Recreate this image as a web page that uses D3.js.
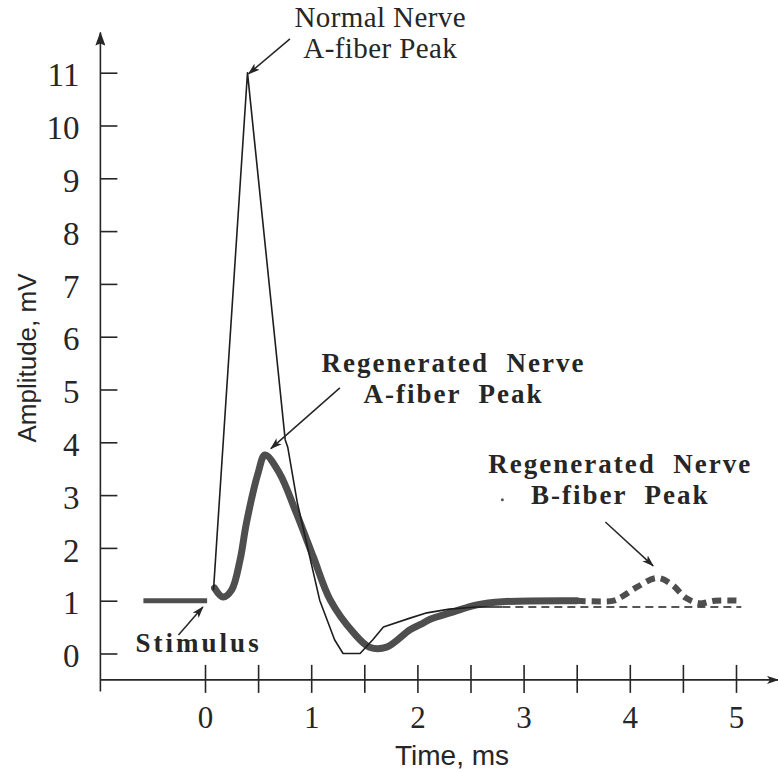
<!DOCTYPE html>
<html>
<head>
<meta charset="utf-8">
<script src="https://cdn.jsdelivr.net/npm/d3@7"></script>
<style>
  html, body { margin: 0; padding: 0; background: #fff; }
  svg { display: block; }
  .serif { font-family: "Liberation Serif", "DejaVu Serif", serif; fill: #262626; }
  .sans { font-family: "Liberation Sans", Arial, sans-serif; fill: #262626; }
</style>
</head>
<body>
<div class="chart"></div>
<script>
// Compound action potential, normal vs regenerated nerve
// values (time in ms, amplitude in mV)

// stimulus artifact
var stimTime = [-0.58, 0.02];
var stimAmp = [1.0, 1.0];

// normal nerve, thin solid trace
var normalTime = [0.08, 0.40, 0.755, 0.78, 0.87, 1.08, 1.22, 1.30, 1.46, 1.58, 1.68, 1.93, 2.09, 2.30, 2.55, 2.80];
var normalAmp  = [1.20, 11.0, 4.05, 3.90, 2.85, 1.01, 0.26, 0.00, 0.00, 0.26, 0.50, 0.67, 0.77, 0.84, 0.88, 0.88];

// normal nerve, thin dashed tail
var normalTailTime = [2.80, 5.05];
var normalTailAmp = [0.88, 0.88];

// regenerated nerve, thick solid trace
var regenTime = [0.09, 0.17, 0.25, 0.33, 0.39, 0.50, 0.565, 0.70, 0.86, 1.02, 1.18, 1.40, 1.55, 1.71, 1.93, 2.03, 2.12, 2.34, 2.56, 2.80, 3.50];
var regenAmp  = [1.24, 1.07, 1.20, 1.77, 2.47, 3.42, 3.76, 3.42, 2.66, 1.83, 1.01, 0.39, 0.12, 0.12, 0.45, 0.55, 0.65, 0.79, 0.92, 0.98, 1.00];

// regenerated nerve, thick dashed tail with the B-fiber bump
var regenTailTime = [3.50, 3.85, 3.92, 4.07, 4.26, 4.40, 4.53, 4.66, 4.80, 5.05];
var regenTailAmp  = [1.00, 1.00, 1.07, 1.26, 1.43, 1.30, 1.05, 0.95, 1.00, 1.00];

// tick values
var xTickValues = [0, 0.5, 1, 1.5, 2, 2.5, 3, 3.5, 4, 4.5, 5];
var yTickValues = [0, 1, 2, 3, 4, 5, 6, 7, 8, 9, 10, 11];

var svgWidth = 778;
var svgHeight = 773;

var svg = d3.select(".chart")
            .append("svg")
            .attr("width", svgWidth)
            .attr("height", svgHeight);

// scales
var x = d3.scaleLinear().domain([0, 5]).range([205, 736]);
var y = d3.scaleLinear().domain([0, 11]).range([653.5, 72.7]);

// where the axes sit (in data units)
var xAxisAt = -0.5;
var yAxisAt = -0.985;

var ink = "#262626";

// arrow markers
var defs = svg.append("defs");
defs.append("marker")
    .attr("id", "head")
    .attr("viewBox", "0 0 12 8")
    .attr("refX", 11).attr("refY", 4)
    .attr("markerWidth", 12).attr("markerHeight", 8)
    .attr("markerUnits", "userSpaceOnUse")
    .attr("orient", "auto")
  .append("path")
    .attr("d", "M0,0 L12,4 L0,8 L3,4 Z")
    .attr("fill", ink);

defs.append("marker")
    .attr("id", "axisHead")
    .attr("viewBox", "0 0 14 10")
    .attr("refX", 13).attr("refY", 5)
    .attr("markerWidth", 14).attr("markerHeight", 10)
    .attr("markerUnits", "userSpaceOnUse")
    .attr("orient", "auto")
  .append("path")
    .attr("d", "M0,0 L14,5 L0,10 L2,5 Z")
    .attr("fill", ink);

// axis lines
svg.append("line")
   .attr("x1", x(yAxisAt)).attr("x2", x(yAxisAt))
   .attr("y1", y(-0.72)).attr("y2", y(11.76))
   .attr("stroke", ink).attr("stroke-width", 1.6)
   .attr("marker-end", "url(#axisHead)");

svg.append("line")
   .attr("x1", x(yAxisAt)).attr("x2", svgWidth)
   .attr("y1", y(xAxisAt)).attr("y2", y(xAxisAt))
   .attr("stroke", ink).attr("stroke-width", 1.6)
   .attr("marker-end", "url(#head)");

// y axis ticks and labels
var leftAxis = d3.axisLeft(y)
                 .tickValues(yTickValues)
                 .tickSize(12)
                 .tickPadding(9)
                 .tickFormat(d3.format("d"));

var gy = svg.append("g")
            .attr("transform", `translate(${x(yAxisAt)}, 0)`)
            .call(leftAxis);
gy.select(".domain").remove();
gy.selectAll(".tick line").attr("x2", 17).attr("stroke", ink).attr("stroke-width", 1.6);
gy.selectAll(".tick text")
  .attr("class", "serif")
  .attr("dy", "0.4em")
  .style("font-size", "33px");

// x axis ticks and labels
var bottomAxis = d3.axisBottom(x)
                   .tickValues(xTickValues)
                   .tickSize(13)
                   .tickPadding(13)
                   .tickFormat(d => Number.isInteger(d) ? d : "");

var gx = svg.append("g")
            .attr("transform", `translate(0, ${y(xAxisAt)})`)
            .call(bottomAxis);
gx.select(".domain").remove();
gx.selectAll(".tick line").attr("y1", -15).attr("stroke", ink).attr("stroke-width", 1.6);
gx.selectAll(".tick text")
  .attr("class", "serif")
  .style("font-size", "31px");

// axis titles
svg.append("text")
   .attr("class", "sans")
   .attr("transform", `translate(36, 358) rotate(-90)`)
   .attr("text-anchor", "middle")
   .style("font-size", "26px")
   .text("Amplitude, mV");

svg.append("text")
   .attr("class", "sans")
   .attr("x", 452).attr("y", 765)
   .attr("text-anchor", "middle")
   .style("font-size", "28px")
   .text("Time, ms");

// traces
function pts(ts, as) { return ts.map((t, i) => [t, as[i]]); }

var straight = d3.line().x(d => x(d[0])).y(d => y(d[1]));
var smooth = d3.line().x(d => x(d[0])).y(d => y(d[1])).curve(d3.curveCatmullRom.alpha(0.5));

var regenColor = "#4e4e4e";

svg.append("path")
   .attr("d", straight(pts(stimTime, stimAmp)))
   .attr("fill", "none").attr("stroke", regenColor).attr("stroke-width", 5);

svg.append("path")
   .attr("d", smooth(pts(regenTime, regenAmp)))
   .attr("fill", "none").attr("stroke", regenColor)
   .attr("stroke-width", 7).attr("stroke-linejoin", "round").attr("stroke-linecap", "round");

svg.append("path")
   .attr("d", smooth(pts(regenTailTime, regenTailAmp)))
   .attr("fill", "none").attr("stroke", regenColor)
   .attr("stroke-width", 6).attr("stroke-dasharray", "9,6");

svg.append("path")
   .attr("d", straight(pts(normalTime, normalAmp)))
   .attr("fill", "none").attr("stroke", "#1e1e1e")
   .attr("stroke-width", 1.6).attr("stroke-linejoin", "round");

svg.append("path")
   .attr("d", straight(pts(normalTailTime, normalTailAmp)))
   .attr("fill", "none").attr("stroke", "#1e1e1e")
   .attr("stroke-width", 1.6).attr("stroke-dasharray", "8,5");

// annotations (positions in data units)
var notes = [
  {lines: ["Normal Nerve", "A-fiber Peak"], bold: false, t: 1.65, a: 11.86, from: [0.80, 11.64], to: [0.41, 10.98]},
  {lines: ["Regenerated  Nerve", "A-fiber  Peak"], bold: true, t: 2.34, a: 5.33, from: [1.27, 5.03], to: [0.62, 3.88]},
  {lines: ["Regenerated  Nerve", "B-fiber  Peak"], bold: true, t: 3.91, a: 3.42, from: [3.77, 2.49], to: [4.22, 1.66]},
  {lines: ["Stimulus"], bold: true, t: -0.06, a: 0.03, from: [-0.25, 0.35], to: [-0.02, 0.88], spacing: "3px"}
];

notes.forEach(function(n) {
  var txt = svg.append("text")
     .attr("class", "serif")
     .attr("text-anchor", "middle")
     .attr("xml:space", "preserve")
     .style("white-space", "pre")
     .style("font-size", n.bold ? "27px" : "29px")
     .style("font-weight", n.bold ? "bold" : "normal")
     .style("letter-spacing", n.spacing || (n.bold ? "2px" : "0.4px"));
  n.lines.forEach(function(l, i) {
    txt.append("tspan")
       .attr("x", x(n.t))
       .attr("y", y(n.a) + i * 31)
       .text(l);
  });
  svg.append("line")
     .attr("x1", x(n.from[0])).attr("y1", y(n.from[1]))
     .attr("x2", x(n.to[0])).attr("y2", y(n.to[1]))
     .attr("stroke", ink).attr("stroke-width", 1.5)
     .attr("marker-end", "url(#head)");
});

// small speck next to the B-fiber label
svg.append("circle")
   .attr("cx", x(2.8)).attr("cy", y(2.91))
   .attr("r", 1.5).attr("fill", "#555");
</script>
</body>
</html>
